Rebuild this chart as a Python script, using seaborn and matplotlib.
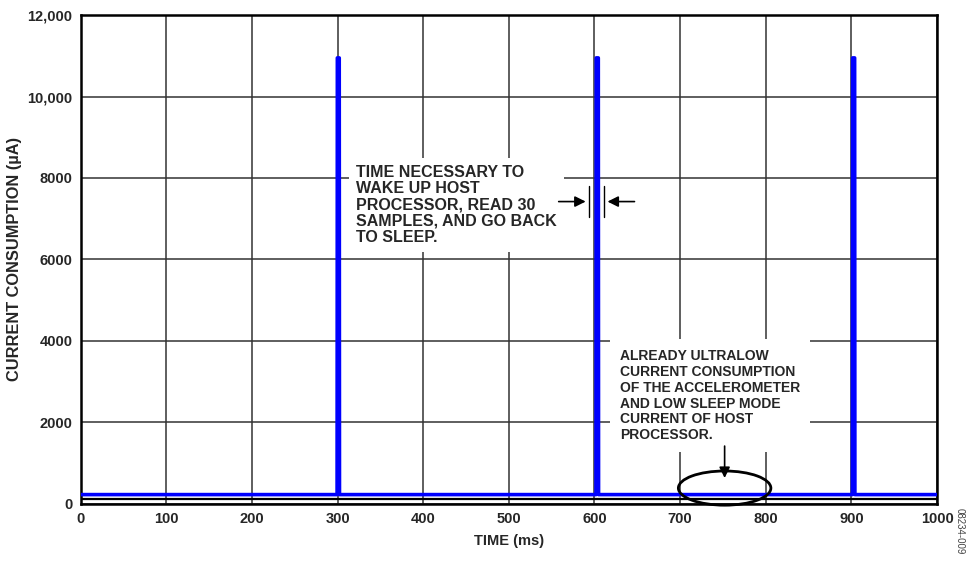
import matplotlib.pyplot as plt
import seaborn as sns
import pandas as pd
from matplotlib.patches import Ellipse

# data
time_ms = [0, 299.5, 299.8, 302.0, 302.3, 601.8, 602.1, 604.5, 604.8, 901.2, 901.5, 903.8, 904.1, 1000]
current_ua = [220, 220, 10950, 10950, 220, 220, 10950, 10950, 220, 220, 10950, 10950, 220, 220]
floor_time = [0, 1000]
floor_current = [120, 120]

x_ticks = list(range(0, 1001, 100))
y_ticks = [0, 2000, 4000, 6000, 8000, 10000, 12000]
y_labels = ["0", "2000", "4000", "6000", "8000", "10,000", "12,000"]

sns.set_style("white")
plt.rcParams["font.family"] = ["Liberation Sans", "DejaVu Sans"]
plt.rcParams["font.weight"] = "bold"

fig = plt.figure(figsize=(9.71, 5.62), dpi=100)
ax = fig.add_axes([0.083, 0.104, 0.882, 0.869])

df = pd.DataFrame({"time": time_ms, "current": current_ua})
sns.lineplot(data=df, x="time", y="current", color="#0000ff", lw=2.6,
             estimator=None, sort=False, ax=ax, zorder=3)
sns.lineplot(x=floor_time, y=floor_current, color="black", lw=1.6,
             estimator=None, ax=ax, zorder=3)

ax.set_xlim(0, 1000)
ax.set_ylim(0, 12000)
ax.set_xticks(x_ticks)
ax.set_xticklabels([str(t) for t in x_ticks], fontsize=10.5, fontweight="bold")
ax.set_yticks(y_ticks)
ax.set_yticklabels(y_labels, fontsize=10.5, fontweight="bold")
ax.grid(True, color="#333333", lw=1.1)
ax.set_axisbelow(True)
ax.tick_params(direction="out", length=3, width=1, color="black", pad=3)
for s in ax.spines.values():
    s.set_color("black")
    s.set_linewidth(1.8)

ax.set_xlabel("TIME (ms)", fontsize=10.5, fontweight="bold", labelpad=6)
ax.set_ylabel("CURRENT CONSUMPTION (µA)", fontsize=11.8, fontweight="bold", labelpad=4)

# annotation: wake-up time
ax.text(322, 8330, "TIME NECESSARY TO\nWAKE UP HOST\nPROCESSOR, READ 30\nSAMPLES, AND GO BACK\nTO SLEEP.",
        fontsize=11.5, fontweight="bold", va="top", ha="left", linespacing=1.12,
        bbox=dict(facecolor="white", edgecolor="none", pad=5), zorder=4)
ax.plot([594, 594], [7050, 7800], color="black", lw=1, zorder=4)
ax.plot([611, 611], [7050, 7800], color="black", lw=1, zorder=4)
ax.annotate("", xy=(593, 7420), xytext=(555, 7420),
            arrowprops=dict(arrowstyle="-|>", color="black", lw=1.2, mutation_scale=16), zorder=4)
ax.annotate("", xy=(612, 7420), xytext=(650, 7420),
            arrowprops=dict(arrowstyle="-|>", color="black", lw=1.2, mutation_scale=16), zorder=4)

# annotation: sleep current
ax.text(630, 3800, "ALREADY ULTRALOW\nCURRENT CONSUMPTION\nOF THE ACCELEROMETER\nAND LOW SLEEP MODE\nCURRENT OF HOST\nPROCESSOR.",
        fontsize=10, fontweight="bold", va="top", ha="left", linespacing=1.17,
        bbox=dict(facecolor="white", edgecolor="none", pad=7), zorder=4)
ax.annotate("", xy=(752, 560), xytext=(752, 1480),
            arrowprops=dict(arrowstyle="-|>", color="black", lw=1.2, mutation_scale=16), zorder=4)
ax.add_patch(Ellipse((752, 380), 108, 840, fill=False, edgecolor="black", lw=2, zorder=5, clip_on=False))

fig.text(0.988, 0.055, "08234-009", rotation=270, fontsize=7, color="#444444",
         fontweight="normal", ha="center", va="center")

fig.savefig("out.png", dpi=100)
